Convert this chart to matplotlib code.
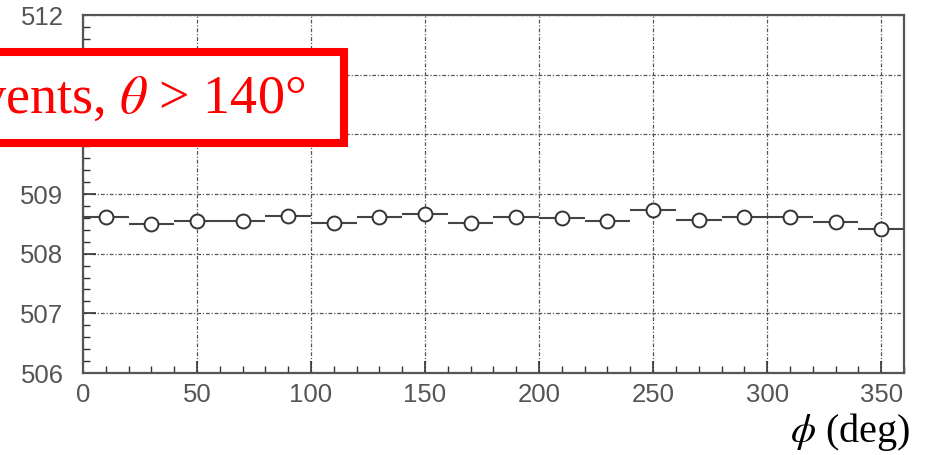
import matplotlib.pyplot as plt
from matplotlib.patches import Rectangle
from matplotlib.ticker import MultipleLocator

# mean value per phi bin (20 deg wide)
phi_centers = [10, 30, 50, 70, 90, 110, 130, 150, 170, 190,
               210, 230, 250, 270, 290, 310, 330, 350]
mean_vals = [508.62, 508.49, 508.55, 508.55, 508.63, 508.52, 508.61, 508.67, 508.51,
             508.62, 508.59, 508.55, 508.74, 508.56, 508.62, 508.62, 508.53, 508.41]
bin_half = 10
y_err = 0.04

y_ticks = [506, 507, 508, 509, 510, 511, 512]
x_ticks = [0, 50, 100, 150, 200, 250, 300, 350]

plt.rcParams['mathtext.fontset'] = 'stix'

fig = plt.figure(figsize=(9.3, 4.55), dpi=100)
ax = fig.add_axes([0.0892, 0.1802, 0.9828 - 0.0892 - 0.0108, 0.967 - 0.1802])

ax.errorbar(phi_centers, mean_vals, xerr=bin_half, yerr=y_err, fmt='o',
            color='#333333', ecolor='#444444', elinewidth=1.5, capsize=0,
            markersize=10, markerfacecolor='white', markeredgewidth=1.4,
            markeredgecolor='#333333', zorder=3)

ax.set_xlim(0, 360)
ax.set_ylim(506, 512)
ax.set_xticks(x_ticks)
ax.set_yticks(y_ticks)
ax.xaxis.set_minor_locator(MultipleLocator(10))
ax.yaxis.set_minor_locator(MultipleLocator(0.2))
ax.tick_params(which='both', direction='in', top=False, right=False,
               colors='#333333', labelcolor='#555555', labelsize=18.5)
ax.tick_params(which='major', length=9, width=1.2)
ax.tick_params(which='minor', length=5, width=1.0)
ax.tick_params(axis='y', pad=14)
ax.tick_params(axis='x', pad=7)
for lbl in ax.get_xticklabels() + ax.get_yticklabels():
    lbl.set_family('Liberation Sans')

ax.grid(True, which='major', color='#555555', linewidth=0.9,
        linestyle=(0, (3, 1.5, 1, 1.5)))
for s in ax.spines.values():
    s.set_color('#555555')
    s.set_linewidth(1.6)

# label box at upper left, partly off the canvas
box = Rectangle((-20 / 930, (455 - 142.5) / 455), (344 + 20) / 930, 91 / 455,
                transform=fig.transFigure, facecolor='white', edgecolor='#ff0000',
                linewidth=5.8, zorder=10)
fig.add_artist(box)
fig.text(305 / 930, (455 - 113) / 455, r'events, $\theta$ > 140°', color='#ff0000',
         family='Liberation Serif', fontsize=39, ha='right', va='baseline', zorder=11)

fig.text(910 / 930, (455 - 442) / 455, r'$\phi$ (deg)', color='black',
         family='Liberation Serif', fontsize=29, ha='right', va='baseline')

fig.savefig('out.png', dpi=100)
